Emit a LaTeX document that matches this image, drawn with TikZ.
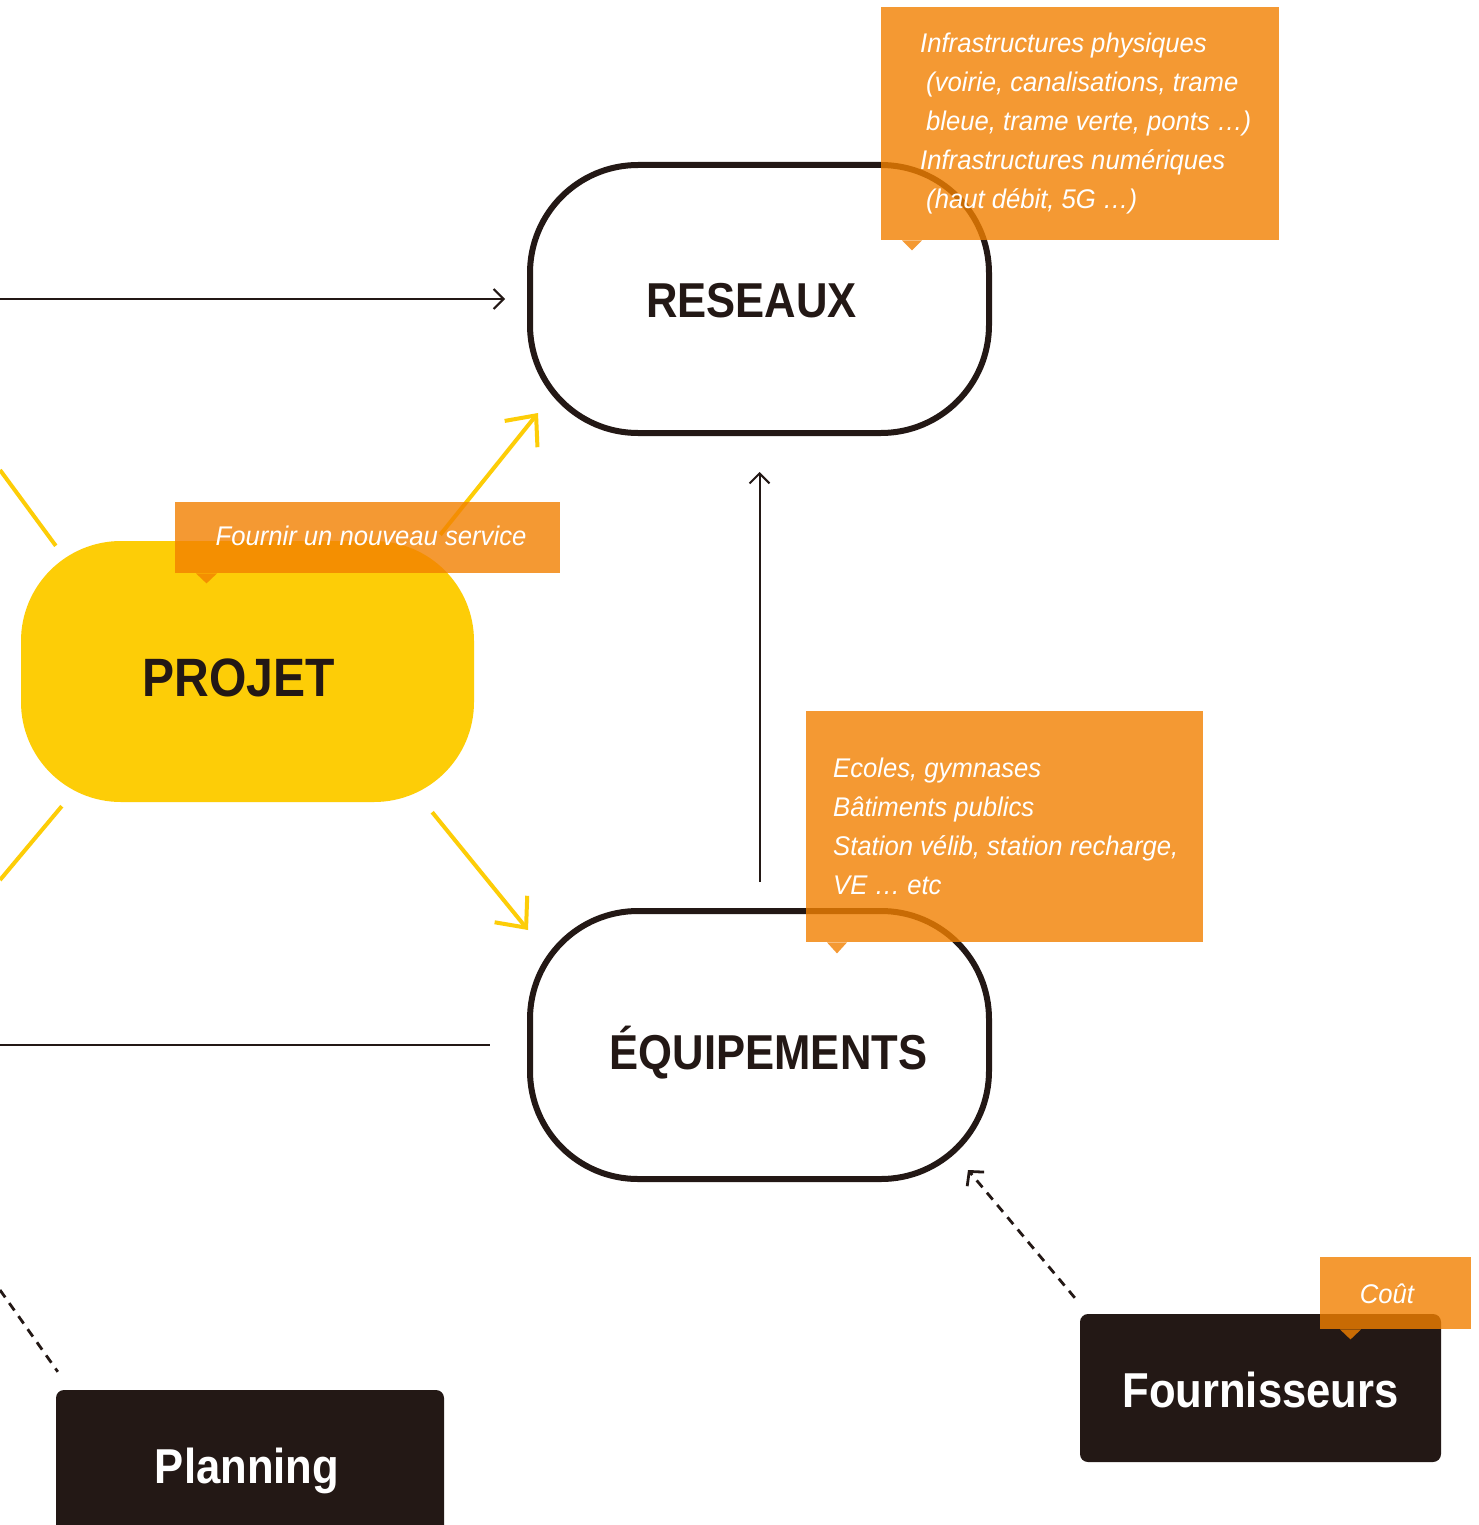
\documentclass[tikz,border=0pt]{standalone}
\usepackage{fontspec}
\setmainfont{Liberation Sans}
\newfontfamily\bfont{Liberation Sans}[FakeStretch=0.89]
\newfontfamily\ifont{Liberation Sans}[FakeStretch=0.95]
\usetikzlibrary{arrows.meta}
\definecolor{ink}{HTML}{231815}
\definecolor{sun}{HTML}{FDCD07}
\definecolor{tang}{HTML}{F28000}
\tikzset{
  ring/.style={draw=ink, line width=6pt, rounded corners=108pt, minimum width=459pt,
    minimum height=268pt, inner sep=0pt, text=ink, font=\bfont\bfseries\fontsize{49}{49}\selectfont},
  projbox/.style={fill=sun, rounded corners=100pt, minimum width=453pt, minimum height=261pt,
    inner sep=0pt, text=ink, font=\bfont\bfseries\fontsize{54}{54}\selectfont},
  darkbox/.style={fill=ink, rounded corners=8pt, inner sep=0pt, text=white,
    font=\bfont\bfseries\fontsize{49}{49}\selectfont},
  thinarrow/.style={draw=ink, line width=2pt, -{Straight Barb[length=10pt,width=20pt]}},
  thinline/.style={draw=ink, line width=2pt},
  dasharrow/.style={draw=ink, line width=2.8pt, dash pattern=on 9pt off 7pt,
    -{Straight Barb[length=10pt,width=22pt]}},
  dashline/.style={draw=ink, line width=2.8pt, dash pattern=on 9pt off 7pt},
  sunline/.style={draw=sun, line width=4pt},
  sunarrow/.style={draw=sun, line width=4pt, -{Straight Barb[length=24pt,width=42pt]}},
  callbox/.style={fill=tang, fill opacity=0.8, draw=none, inner sep=0pt, anchor=north west, rectangle},
  pointer/.style={fill=tang, fill opacity=0.8},
  calltext/.style={text=white, font=\ifont\itshape\fontsize{27}{39}\selectfont, align=left, inner sep=0pt},
}
\begin{document}
\begin{tikzpicture}[x=1pt,y=-1pt]
\clip (0,0) rectangle (1478,1525);
\fill[white] (0,0) rectangle (1478,1525);

% main nodes
\node[ring, text height=37pt, text depth=0pt] (res) at (759.5,299) {\hspace*{-16pt}RESEAUX};
\node[ring, text height=49pt, text depth=0pt] (equ) at (759.5,1045) {ÉQUIPEMENTS\hspace*{-18pt}};
\node[projbox, text height=49pt, text depth=0pt] (proj) at (247.5,671.5) {\hspace*{-18pt}PROJET};
\node[darkbox, minimum width=388pt, minimum height=150pt, text height=36pt, text depth=0pt] (plan) at (250,1465) {\hspace*{-6pt}Planning};
\node[darkbox, minimum width=361pt, minimum height=148pt, text height=39pt, text depth=0pt] (four) at (1260.5,1388) {Fournisseurs};

% free ends
\coordinate (inR) at (0,299);
\coordinate (inE) at (0,1045);
\coordinate (pl0) at (0,1290);
\coordinate (y1) at (0,470);
\coordinate (y2) at (0,880);

% black connectors
\draw[thinarrow] (inR) -- ([shift={(-22,0)}]res.west);
\draw[thinline] (inE) -- ([shift={(-37,0)}]equ.west);
\draw[thinarrow] ([shift={(0,-26)}]equ.north) -- ([shift={(0,36)}]res.south);
\draw[dasharrow] ([shift={(-5,-16)}]four.north west) -- ([shift={(-24,-12)}]equ.south east);
\draw[dashline] (pl0) -- ([shift={(2,-18)}]plan.north west);

% yellow connectors
\draw[sunline] (y1) -- ([shift={(35,5)}]proj.north west);
\draw[sunline] ([shift={(41,4)}]proj.south west) -- (y2);
\draw[sunarrow] ([shift={(-34,-6)}]proj.north east) -- ([shift={(11,-23)}]res.south west);
\draw[sunarrow] ([shift={(-42,10)}]proj.south east) -- ([shift={(1,22)}]equ.north west);

% callouts
\node[callbox, minimum width=398pt, minimum height=233pt] (c1) at (881,7) {};
\fill[pointer] ([shift={(21,0)}]c1.south west) -- ++(20,0) -- ++(-10,10) -- cycle;
\node[calltext, anchor=west] (t1) at (920,124) {Infrastructures physiques\\\hspace*{6pt}(voirie, canalisations, trame\\\hspace*{6pt}bleue, trame verte, ponts …)\\Infrastructures numériques\\\hspace*{6pt}(haut débit, 5G …)};

\node[callbox, minimum width=385pt, minimum height=71pt] (c2) at (175,502) {};
\fill[pointer] ([shift={(21,0)}]c2.south west) -- ++(21,0) -- ++(-10.5,10) -- cycle;
\node[calltext] (t2) at (371,536) {Fournir un nouveau service};

\node[callbox, minimum width=397pt, minimum height=231pt] (c3) at (806,711) {};
\fill[pointer] ([shift={(21,0)}]c3.south west) -- ++(20,0) -- ++(-10,11) -- cycle;
\node[calltext, anchor=west] (t3) at (833,826) {Ecoles, gymnases\\Bâtiments publics\\Station vélib, station recharge,\\VE … etc};

\node[callbox, minimum width=151pt, minimum height=72pt] (c4) at (1320,1257) {};
\fill[pointer] ([shift={(20,0)}]c4.south west) -- ++(21,0) -- ++(-10.5,10) -- cycle;
\node[calltext] (t4) at (1387,1294) {Coût};
\end{tikzpicture}
\end{document}
